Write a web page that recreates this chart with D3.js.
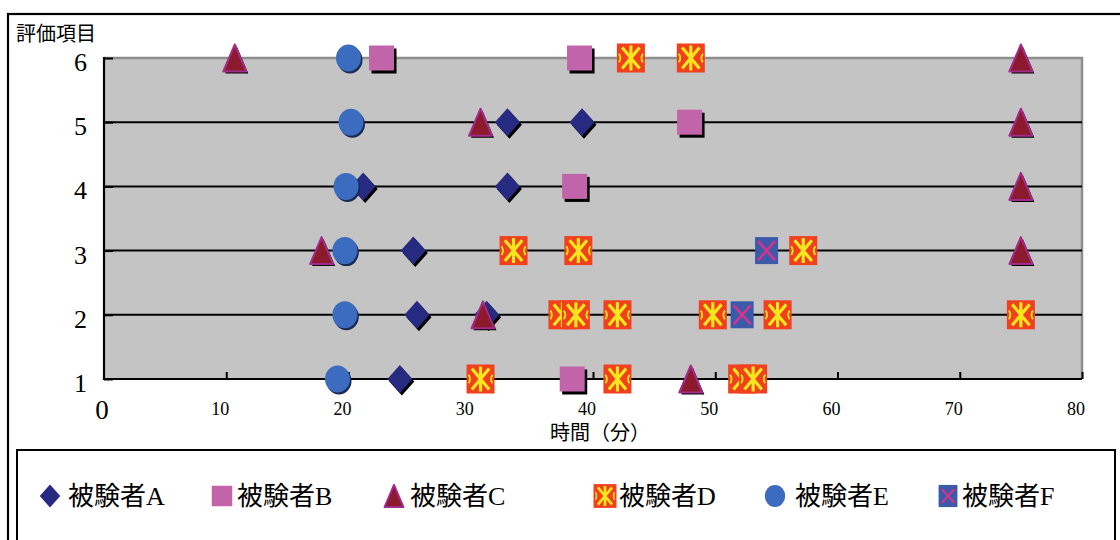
<!DOCTYPE html>
<html>
<head>
<meta charset="utf-8">
<script src="https://cdn.jsdelivr.net/npm/d3@7"></script>
<style>
  html, body { margin: 0; padding: 0; background: #fff; }
  svg { display: block; }
</style>
</head>
<body>
<svg id="chart" width="1120" height="540"></svg>
<script>
// 評価項目ごとの到達時間（分）。各点は [時間, 評価項目]
const subjectA = [[24.2, 1], [25.6, 2], [31.3, 2], [25.3, 3], [21.2, 4], [33.0, 4], [33.0, 5], [39.1, 5]];
const subjectB = [[38.3, 1], [38.5, 4], [47.9, 5], [22.7, 6], [38.9, 6]];
const subjectC = [[48.0, 1], [31.0, 2], [17.8, 3], [75.0, 3], [75.0, 4], [30.8, 5], [75.0, 5], [10.7, 6], [75.0, 6]];
const subjectD = [[30.8, 1], [42.0, 1], [52.2, 1], [53.1, 1],
                  [37.5, 2], [38.6, 2], [42.0, 2], [49.8, 2], [55.1, 2], [75.0, 2],
                  [33.5, 3], [38.8, 3], [57.2, 3],
                  [43.1, 6], [48.0, 6]];
const subjectE = [[19.1, 1], [19.7, 2], [19.7, 3], [19.8, 4], [20.2, 5], [20.0, 6]];
const subjectF = [[52.2, 2], [54.2, 3]];

const seriesNames = ["被験者A", "被験者B", "被験者C", "被験者D", "被験者E", "被験者F"];
const xTicks = [0, 10, 20, 30, 40, 50, 60, 70, 80];
const yTicks = [1, 2, 3, 4, 5, 6];
const yTitle = "評価項目";
const xTitle = "時間（分）";

const svg = d3.select("#chart");
const serif = "'Liberation Serif', 'Times New Roman', 'Noto Sans CJK JP', serif";
const cjk = "'Noto Sans CJK JP', sans-serif";

const x = d3.scaleLinear().domain([0, 80]).range([104, 1082]);
const y = d3.scaleLinear().domain([1, 6]).range([379, 58]);

// outer frame
svg.append("rect").attr("x", 8).attr("y", 14).attr("width", 1130).attr("height", 560)
  .attr("fill", "none").attr("stroke", "#000").attr("stroke-width", 2.2);

// plot background
svg.append("rect").attr("x", x(0)).attr("y", y(6)).attr("width", x(80) - x(0)).attr("height", y(1) - y(6))
  .attr("fill", "#c4c4c4");
// gray top and right border
svg.append("path")
  .attr("d", `M${x(0)},${y(6)}H${x(80)}V${y(1)}`)
  .attr("fill", "none").attr("stroke", "#8e8e8e").attr("stroke-width", 2.5);

// horizontal grid lines
svg.append("g").selectAll("line").data(yTicks.filter(v => v > 1 && v < 6)).join("line")
  .attr("x1", x(0)).attr("x2", x(80)).attr("y1", d => y(d)).attr("y2", d => y(d))
  .attr("stroke", "#000").attr("stroke-width", 2);

// x axis (ticks pointing inward)
const xAxis = svg.append("g").attr("transform", `translate(0,${y(1)})`)
  .call(d3.axisTop(x).tickValues(xTicks.filter(v => v > 0)).tickSize(7).tickFormat(""));
xAxis.select(".domain").remove();
xAxis.selectAll("line").attr("stroke", "#000").attr("stroke-width", 2);
svg.append("line").attr("x1", x(0)).attr("x2", x(80)).attr("y1", y(1)).attr("y2", y(1))
  .attr("stroke", "#000").attr("stroke-width", 2.2);

// y axis (ticks pointing inward)
const yAxis = svg.append("g").attr("transform", `translate(${x(0)},0)`)
  .call(d3.axisRight(y).tickValues(yTicks).tickSize(9).tickFormat(""));
yAxis.select(".domain").remove();
yAxis.selectAll("line").attr("stroke", "#000").attr("stroke-width", 2);
svg.append("line").attr("x1", x(0)).attr("x2", x(0)).attr("y1", y(6) - 1).attr("y2", y(1) + 1)
  .attr("stroke", "#000").attr("stroke-width", 2.2);

// tick labels
svg.append("g").selectAll("text").data(xTicks).join("text")
  .attr("x", d => x(d) + (d === 0 ? -2 : -6))
  .attr("y", d => d === 0 ? 419 : 415)
  .attr("text-anchor", "middle")
  .attr("font-family", serif)
  .attr("font-size", d => d === 0 ? 27 : 18)
  .attr("fill", "#000")
  .text(d => d);

svg.append("g").selectAll("text").data(yTicks).join("text")
  .attr("x", 87).attr("y", d => y(d) + 13)
  .attr("text-anchor", "end")
  .attr("font-family", serif).attr("font-size", 26).attr("fill", "#000")
  .text(d => d);

// axis titles
svg.append("text").attr("x", 16).attr("y", 41)
  .attr("font-family", cjk).attr("font-size", 20).attr("fill", "#000").text(yTitle);
svg.append("text").attr("x", 550).attr("y", 440)
  .attr("font-family", cjk).attr("font-size", 20).attr("fill", "#000").text(xTitle);

// marker drawing, one per subject
const markers = [
  { // A: navy diamond
    draw(g, s, shadow) {
      const w = 12.5 * s, h = 14 * s;
      const d = `M0,${-h}L${w},0L0,${h}L${-w},0Z`;
      if (shadow) g.append("path").attr("d", d).attr("transform", "translate(2,2.5)").attr("fill", "#000");
      g.append("path").attr("d", d).attr("fill", "#262a80");
    }
  },
  { // B: pink square
    draw(g, s, shadow) {
      const a = 12.5 * s;
      if (shadow) g.append("rect").attr("x", -a + 2.5).attr("y", -a + 3).attr("width", 2 * a).attr("height", 2 * a).attr("fill", "#000");
      g.append("rect").attr("x", -a).attr("y", -a).attr("width", 2 * a).attr("height", 2 * a).attr("fill", "#c264aa");
    }
  },
  { // C: dark red triangle with purple edge
    draw(g, s, shadow) {
      const w = 11.5 * s, h = 13.5 * s;
      const d = `M0,${-h}L${w},${h}L${-w},${h}Z`;
      if (shadow) g.append("path").attr("d", d).attr("transform", "translate(2,2)").attr("fill", "#000");
      g.append("path").attr("d", d).attr("fill", "#8c1a2c").attr("stroke", "#a02c8c").attr("stroke-width", 2)
        .attr("stroke-linejoin", "round");
    }
  },
  { // D: red square with yellow star
    draw(g, s) {
      const w = 14 * s, h = 14.5 * s;
      g.append("rect").attr("x", -w).attr("y", -h).attr("width", 2 * w).attr("height", 2 * h).attr("fill", "#f0401e");
      const iw = w * 0.62, ih = h * 0.72;
      g.append("path")
        .attr("d", `M${-iw},${-ih}L${iw},${ih}M${iw},${-ih}L${-iw},${ih}M0,${-h + 2}V${h - 2}`)
        .attr("stroke", "#f7e61c").attr("stroke-width", 3.2 * s).attr("fill", "none");
      g.append("path")
        .attr("d", `M${-w + 2},${-h * 0.3}Q${-w * 0.65},0 ${-w + 2},${h * 0.3}M${w - 2},${-h * 0.3}Q${w * 0.65},0 ${w - 2},${h * 0.3}`)
        .attr("stroke", "#f7e61c").attr("stroke-width", 1.8 * s).attr("fill", "none");
    }
  },
  { // E: blue circle
    draw(g, s, shadow) {
      const rx = 12.5 * s, ry = 13.5 * s;
      if (shadow) g.append("ellipse").attr("cx", 1.5).attr("cy", 2).attr("rx", rx).attr("ry", ry).attr("fill", "#1a2a55");
      g.append("ellipse").attr("rx", rx).attr("ry", ry).attr("fill", "#3c6cbf");
    }
  },
  { // F: blue square with magenta cross
    draw(g, s) {
      const w = 11.5 * s, h = 13.5 * s;
      g.append("rect").attr("x", -w).attr("y", -h).attr("width", 2 * w).attr("height", 2 * h).attr("fill", "#3b5aaa");
      g.append("path").attr("d", `M${-w + 3},${-h + 4}L${w - 3},${h - 4}M${w - 3},${-h + 4}L${-w + 3},${h - 4}`)
        .attr("stroke", "#e0308a").attr("stroke-width", 2.4 * s).attr("fill", "none");
    }
  }
];

const allSeries = [subjectA, subjectB, subjectC, subjectD, subjectE, subjectF];

// data points
allSeries.forEach((pts, i) => {
  const layer = svg.append("g").attr("class", "series-" + i);
  layer.selectAll("g").data(pts).join("g")
    .attr("transform", d => `translate(${x(d[0])},${y(d[1])})`)
    .each(function () { markers[i].draw(d3.select(this), 1, true); });
});

// legend
svg.append("rect").attr("x", 17).attr("y", 450).attr("width", 1098).attr("height", 120)
  .attr("fill", "#fff").attr("stroke", "#000").attr("stroke-width", 2);
const legendMarkX = [50, 222, 394, 605, 775, 948];
const legendTextX = [68, 237, 410, 619, 795, 962];
const legendY = 496;
const legend = svg.append("g").selectAll("g").data(seriesNames).join("g");
legend.each(function (name, i) {
  const g = d3.select(this);
  const m = g.append("g").attr("transform", `translate(${legendMarkX[i]},${legendY})`);
  markers[i].draw(m, 0.82, false);
  g.append("text").attr("x", legendTextX[i]).attr("y", legendY + 9)
    .attr("font-family", serif).attr("font-size", 26).attr("fill", "#000").text(name);
});
</script>
</body>
</html>
